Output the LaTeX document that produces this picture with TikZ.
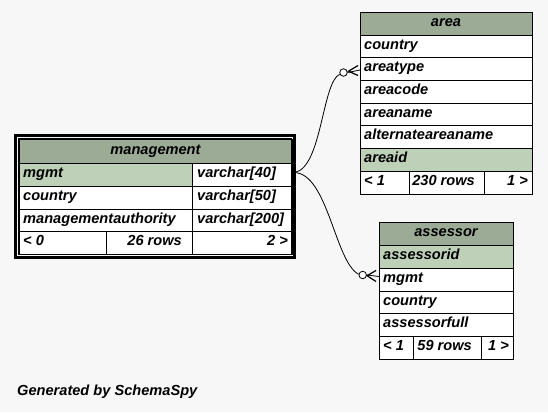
\documentclass[tikz,border=0pt]{standalone}
\usepackage{fontspec}
\setmainfont{Liberation Sans}
\definecolor{bgc}{HTML}{F7F7F7}
\definecolor{hdr}{HTML}{9BAB96}
\definecolor{pk}{HTML}{BED1B8}
\tikzset{
  cell/.style={draw=black, line width=0.9pt},
  txt/.style={font=\fontsize{14.6}{17}\selectfont\bfseries\itshape, inner sep=0pt, yshift=-1.5pt},
  lt/.style={txt, anchor=mid west},
  rt/.style={txt, anchor=mid east},
  ct/.style={txt, anchor=mid},
  conn/.style={draw=black, line width=0.8pt},
  crowline/.style={draw=black, line width=1.2pt},
  opencirc/.style={circle, draw=black, fill=white, line width=0.8pt, minimum size=7.5pt, inner sep=0pt},
}
\begin{document}
\begin{tikzpicture}[x=1pt, y=-1pt]
\useasboundingbox (0,0) rectangle (548,412);
\fill[bgc] (0,0) rectangle (548,412);

% ---------- management ----------
\draw[cell, fill=hdr] (19,139) rectangle (292,163);
\draw[cell, fill=pk] (19,163) rectangle (192,186);
\draw[cell, fill=white] (192,163) rectangle (292,186);
\draw[cell, fill=white] (19,186) rectangle (192,209);
\draw[cell, fill=white] (192,186) rectangle (292,209);
\draw[cell, fill=white] (19,209) rectangle (192,231);
\draw[cell, fill=white] (192,209) rectangle (292,231);
\draw[cell, fill=white] (19,231) rectangle (106,254);
\draw[cell, fill=white] (106,231) rectangle (192,254);
\draw[cell, fill=white] (192,231) rectangle (292,254);
\draw[line width=1pt] (18.5,138.5) rectangle (291.5,254.5);
\draw[line width=2.5pt] (15.7,135.7) rectangle (294.3,257.3);
\node[ct] (mh) at (155.5,150) {management};
\node[lt] (m1a) at (23,173.5) {mgmt};
\node[lt] (m1b) at (197,173.5) {varchar[40]};
\node[lt] (m2a) at (23,196.5) {country};
\node[lt] (m2b) at (197,196.5) {varchar[50]};
\node[lt] (m3a) at (23,219) {managementauthority};
\node[lt] (m3b) at (197,219) {varchar[200]};
\node[lt] (mfa) at (23,241.5) {< 0};
\node[rt] (mfb) at (182,241.5) {26 rows};
\node[rt] (mfc) at (288,241.5) {2 >};

% ---------- area ----------
\draw[cell, fill=hdr] (360,12) rectangle (532,35);
\draw[cell, fill=white] (360,35) rectangle (532,57.5);
\draw[cell, fill=white] (360,57.5) rectangle (532,80);
\draw[cell, fill=white] (360,80) rectangle (532,103);
\draw[cell, fill=white] (360,103) rectangle (532,125.5);
\draw[cell, fill=white] (360,125.5) rectangle (532,148);
\draw[cell, fill=pk] (360,148) rectangle (532,171);
\draw[cell, fill=white] (360,171) rectangle (409,194);
\draw[cell, fill=white] (409,171) rectangle (484,194);
\draw[cell, fill=white] (484,171) rectangle (532,194);
\node[ct] (ah) at (446,22.5) {area};
\node[lt] (a1) at (364,45.2) {country};
\node[lt] (a2) at (364,67.7) {areatype};
\node[lt] (a3) at (364,90.5) {areacode};
\node[lt] (a4) at (364,113.2) {areaname};
\node[lt] (a5) at (364,135.7) {alternateareaname};
\node[lt] (a6) at (364,158.5) {areaid};
\node[lt] (afa) at (364,181.5) {< 1};
\node[rt] (afb) at (475,181.5) {230 rows};
\node[rt] (afc) at (528,181.5) {1 >};

% ---------- assessor ----------
\draw[cell, fill=hdr] (379,222) rectangle (513,245);
\draw[cell, fill=pk] (379,245) rectangle (513,268);
\draw[cell, fill=white] (379,268) rectangle (513,291);
\draw[cell, fill=white] (379,291) rectangle (513,313.5);
\draw[cell, fill=white] (379,313.5) rectangle (513,336);
\draw[cell, fill=white] (379,336) rectangle (413,359);
\draw[cell, fill=white] (413,336) rectangle (481,359);
\draw[cell, fill=white] (481,336) rectangle (513,359);
\node[ct] (sh) at (446,232.5) {assessor};
\node[lt] (s1) at (383,255.5) {assessorid};
\node[lt] (s2) at (383,278.5) {mgmt};
\node[lt] (s3) at (383,301.2) {country};
\node[lt] (s4) at (383,323.7) {assessorfull};
\node[lt] (sfa) at (383,346.5) {< 1};
\node[rt] (sfb) at (472,346.5) {59 rows};
\node[rt] (sfc) at (509,346.5) {1 >};

% ---------- connectors ----------
\coordinate (mgmtR) at (294.5,172.5);
\node[opencirc] (o1) at (343.5,72.5) {};
\node[opencirc] (o2) at (362.7,275) {};
\coordinate (areatypeL) at (360,70);
\coordinate (assessorL) at (379,276.5);
\coordinate (cf1) at (348.5,71.2);
\coordinate (cf1u) at (358,65.5);
\coordinate (cf1d) at (358,75.5);
\coordinate (cf2) at (367,275.7);
\coordinate (cf2u) at (376,270.5);
\coordinate (cf2d) at (376,281.5);
\draw[conn] (mgmtR) .. controls (322,168) and (322,82) .. (o1.205);
\draw[conn] (mgmtR) .. controls (328,174) and (335,262) .. (o2.170);
\draw[conn] (o1.east) -- (areatypeL);
\draw[crowline] (cf1u) -- (cf1) -- (cf1d);
\draw[conn] (o2.east) -- (assessorL);
\draw[crowline] (cf2u) -- (cf2) -- (cf2d);

\node[lt] (gen) at (17,391.5) {Generated by SchemaSpy};
\end{tikzpicture}
\end{document}
